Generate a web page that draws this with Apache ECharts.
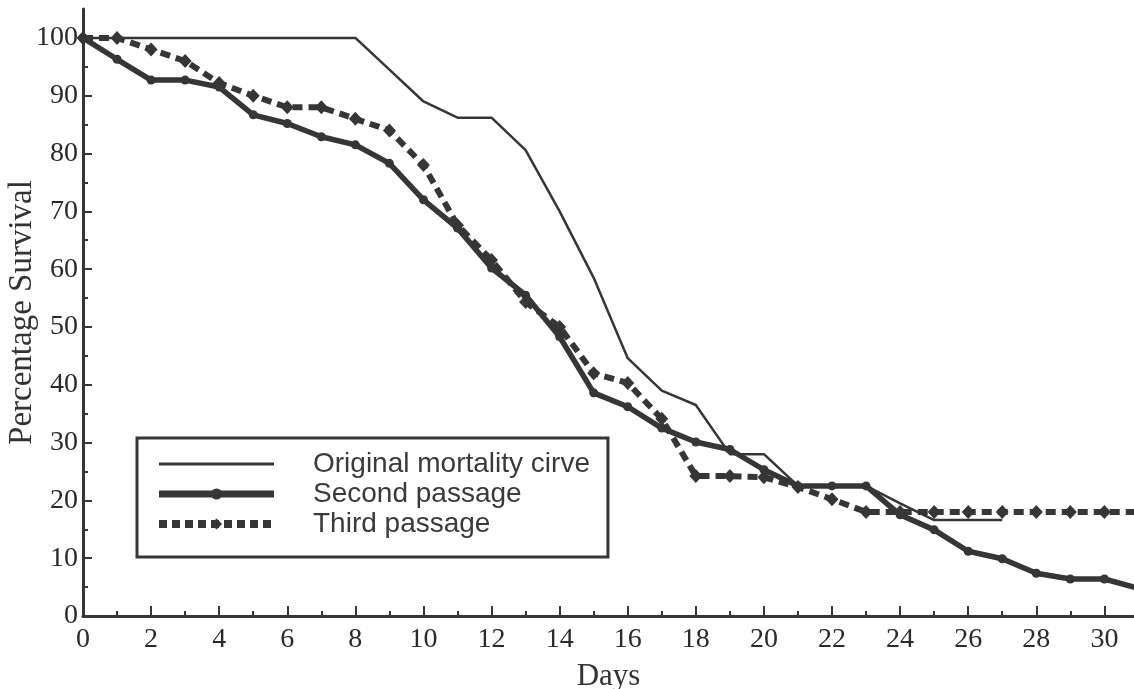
<!DOCTYPE html>
<html>
<head>
<meta charset="utf-8">
<script src="https://cdn.jsdelivr.net/npm/echarts@6/dist/echarts.min.js"></script>
<style>
  html, body { margin: 0; padding: 0; background: #fff; }
  #chart { width: 1134px; height: 689px; }
</style>
</head>
<body>
<div id="chart"></div>
<script>
// Survival (%) by day after infection
const days = [0,1,2,3,4,5,6,7,8,9,10,11,12,13,14,15,16,17,18,19,20,21,22,23,24,25,26,27,28,29,30,31];
const originalCurve = [100,100,100,100,100,100,100,100,100,94.5,89,86.2,86.2,80.6,70,58.5,44.6,39,36.5,28,28,22.5,22.5,22.5,19.5,16.6,16.6,16.6];
const secondPassage = [100,96.3,92.7,92.7,91.5,86.7,85.2,82.9,81.5,78.3,72,67.1,60.2,55.5,48.3,38.6,36.2,32.5,30.1,28.8,25.3,22.5,22.5,22.5,17.5,14.9,11.2,9.9,7.4,6.4,6.4,4.8];
const thirdPassage = [100,100,98,96,92.2,90,88,88,86,84,78,67.6,61.6,54.3,50,42,40.3,34.1,24.2,24.2,24,22.3,20.2,18,18,18,18,18,18,18,18,18];

const seriesNames = ['Original mortality cirve', 'Second passage', 'Third passage'];
const xMajorTicks = [0,2,4,6,8,10,12,14,16,18,20,22,24,26,28,30];
const xMinorTicks = [1,3,5,7,9,11,13,15,17,19,21,23,25,27,29];
const yMajorTicks = [0,10,20,30,40,50,60,70,80,90,100];
const yMinorTicks = [5,15,25,35,45,55,65,75,85,95];

const pairs = vals => vals.map((v, i) => [days[i], v]);

const ink = '#363636';
const serif = '"Liberation Serif", "DejaVu Serif", serif';
const sans = '"Liberation Sans", Arial, sans-serif';
const X_MAX = 30.87, Y_MAX = 105;

const chart = echarts.init(document.getElementById('chart'), null, { renderer: 'canvas' });

chart.setOption({
  animation: false,
  backgroundColor: '#ffffff',
  grid: { left: 83, right: 0, top: 9, bottom: 73, containLabel: false, outerBoundsMode: 'none' },
  legend: {
    orient: 'vertical',
    left: 137,
    top: 438,
    itemWidth: 115,
    itemHeight: 14,
    itemGap: 0,
    padding: [11, 18, 18, 18],
    backgroundColor: '#ffffff',
    borderColor: ink,
    borderWidth: 3,
    borderRadius: 0,
    data: [
      { name: seriesNames[0], itemStyle: { opacity: 0 }, lineStyle: { width: 3 } },
      { name: seriesNames[1], lineStyle: { width: 7 } },
      { name: seriesNames[2], lineStyle: { width: 8, type: [8, 5] } }
    ],
    formatter: name => '{g| }' + name,
    textStyle: {
      fontFamily: sans,
      fontSize: 28,
      color: '#3a3a3a',
      lineHeight: 30,
      rich: { g: { width: 34, lineHeight: 30 } }
    }
  },
  xAxis: [
    {
      type: 'value', min: 0, max: X_MAX,
      name: 'Days', nameLocation: 'middle', nameGap: 45, nameMoveOverlap: false,
      nameTextStyle: { fontFamily: serif, fontSize: 31, color: '#333' },
      axisLine: { show: true, lineStyle: { color: ink, width: 3 } },
      axisTick: { show: true, inside: true, length: 10, lineStyle: { color: ink, width: 2 }, customValues: xMajorTicks },
      axisLabel: { show: true, customValues: xMajorTicks, fontFamily: serif, fontSize: 28, color: '#2a2a2a', margin: 10 },
      splitLine: { show: false }
    },
    {
      type: 'value', min: 0, max: X_MAX, position: 'bottom', offset: 0,
      axisLine: { show: false },
      axisTick: { show: true, inside: true, length: 5, lineStyle: { color: ink, width: 2 }, customValues: xMinorTicks },
      axisLabel: { show: false },
      splitLine: { show: false }
    }
  ],
  yAxis: [
    {
      type: 'value', min: 0, max: Y_MAX,
      name: 'Percentage Survival', nameLocation: 'middle', nameGap: 44, nameRotate: 90, nameMoveOverlap: false,
      nameTextStyle: { fontFamily: serif, fontSize: 33, color: '#333' },
      axisLine: { show: true, lineStyle: { color: ink, width: 3 } },
      axisTick: { show: true, inside: true, length: 9, lineStyle: { color: ink, width: 2 }, customValues: yMajorTicks },
      axisLabel: { show: true, customValues: yMajorTicks, fontFamily: serif, fontSize: 28, color: '#2a2a2a', margin: 5 },
      splitLine: { show: false }
    },
    {
      type: 'value', min: 0, max: Y_MAX, position: 'left', offset: 0,
      axisLine: { show: false },
      axisTick: { show: true, inside: true, length: 5, lineStyle: { color: ink, width: 2 }, customValues: yMinorTicks },
      axisLabel: { show: false },
      splitLine: { show: false }
    }
  ],
  series: [
    {
      name: seriesNames[0], type: 'line', data: pairs(originalCurve),
      symbol: 'none', color: ink,
      lineStyle: { color: ink, width: 2.5 }, z: 4
    },
    {
      name: seriesNames[1], type: 'line', data: pairs(secondPassage),
      symbol: 'circle', symbolSize: 9, showAllSymbol: true, color: ink,
      itemStyle: { color: ink }, lineStyle: { color: ink, width: 5.5 }, z: 3
    },
    {
      name: seriesNames[2], type: 'line', data: pairs(thirdPassage),
      symbol: 'diamond', symbolSize: [13, 14], showAllSymbol: true, color: ink,
      itemStyle: { color: ink }, lineStyle: { color: ink, width: 6, type: [10, 6] }, z: 2
    }
  ]
});
</script>
</body>
</html>
